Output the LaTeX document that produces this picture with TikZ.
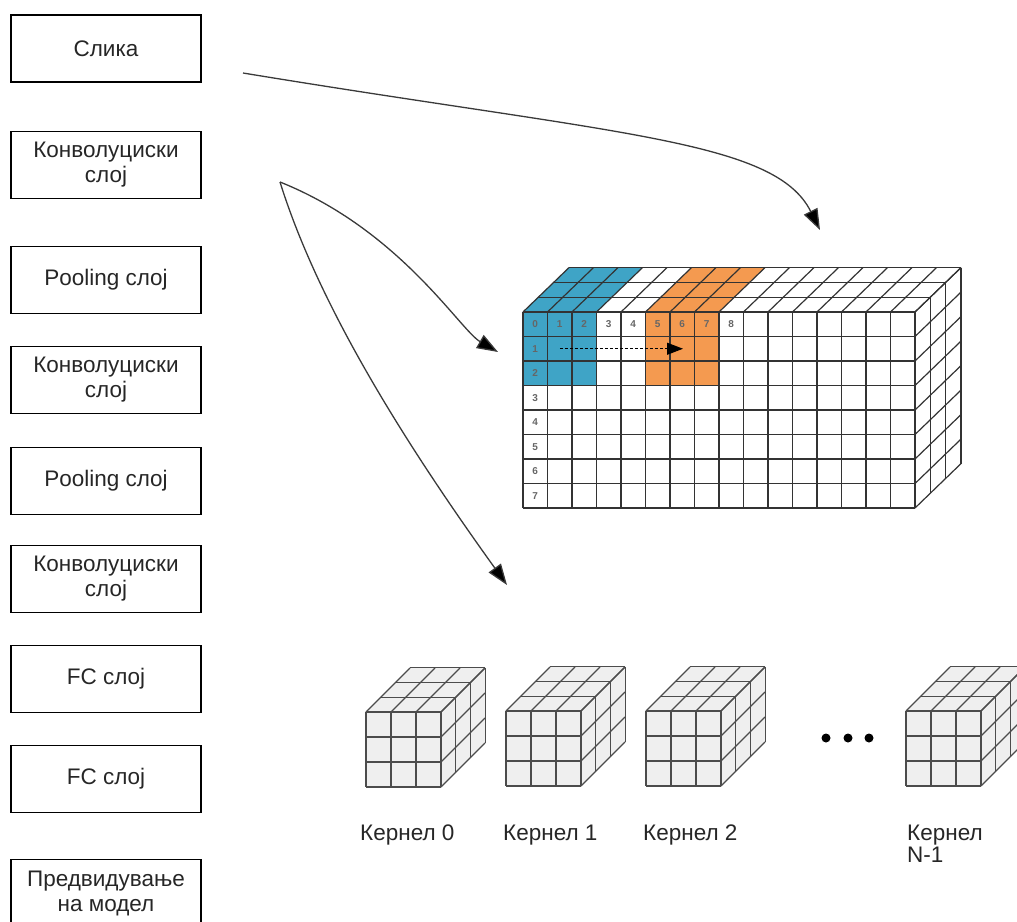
\documentclass[tikz,border=0pt]{standalone}
\usepackage{fontspec}
\setmainfont{Liberation Sans}
\usetikzlibrary{arrows.meta}

\definecolor{cellblue}{HTML}{3FA4C6}
\definecolor{cellorange}{HTML}{F49A50}
\definecolor{gridline}{HTML}{333333}
\definecolor{kernelfill}{HTML}{EFEFEF}
\definecolor{flowline}{HTML}{3A3A3A}

\tikzset{
  layerbox/.style={draw=black, line width=1.5pt, minimum width=190pt, minimum height=67pt,
    align=center, font=\fontsize{22.5}{25}\selectfont, text=black!85, inner sep=2pt},
  flow/.style={draw=flowline, line width=1.3pt, -{Triangle[length=21pt,width=15pt,fill=black]}},
  gridl/.style={draw=gridline, line width=1.2pt},
  cellnum/.style={font=\fontsize{10}{10}\selectfont\bfseries, text=black!60, inner sep=0pt},
  kernline/.style={draw=black!70, line width=1.1pt},
  kernlabel/.style={font=\fontsize{22.5}{22}\selectfont, anchor=base west, align=left,
    inner sep=0pt, text=black!85},
  dotmark/.style={circle, fill=black, minimum size=9pt, inner sep=0pt},
  % a 3x3x3 kernel drawn as a small cube, front top-left corner at the origin
  kernel/.pic={
    \def\k{25}\def\kx{14.7}\def\ky{-14.7}
    \fill[kernelfill] (0,0) -- (3*\k,0) -- (3*\k+3*\kx,3*\ky) -- (3*\kx,3*\ky) -- cycle;
    \fill[kernelfill] (3*\k,0) -- (3*\k+3*\kx,3*\ky) -- (3*\k+3*\kx,3*\k+3*\ky) -- (3*\k,3*\k) -- cycle;
    \fill[kernelfill] (0,0) rectangle (3*\k,3*\k);
    \foreach \i in {0,...,3} {
      \draw[kernline] (\i*\k,0) -- (\i*\k,3*\k);
      \draw[kernline] (0,\i*\k) -- (3*\k,\i*\k);
      \draw[kernline] (\i*\k,0) -- ++(3*\kx,3*\ky);
      \draw[kernline] (\i*\kx,\i*\ky) -- ++(3*\k,0);
      \draw[kernline] (3*\k+\i*\kx,\i*\ky) -- ++(0,3*\k);
      \draw[kernline] (3*\k,\i*\k) -- ++(3*\kx,3*\ky);
    }
  },
}

\begin{document}
\begin{tikzpicture}[x=1pt, y=-1pt]
\clip (0,0) rectangle (1017,921);

% layer stack
\node[layerbox] (b1) at (106,48.5) {Слика};
\node[layerbox] (b2) at (106,165) {Конволуциски\\слој};
\node[layerbox] (b3) at (106,280) {Pooling слој};
\node[layerbox] (b4) at (106,380) {Конволуциски\\слој};
\node[layerbox] (b5) at (106,481) {Pooling слој};
\node[layerbox] (b6) at (106,579) {Конволуциски\\слој};
\node[layerbox] (b7) at (106,679) {FC слој};
\node[layerbox] (b8) at (106,779) {FC слој};
\node[layerbox] (b9) at (106,893) {Предвидување\\на модел};

% input volume with two filter positions
\begin{scope}[shift={(523,312)}]
  \def\w{24.5}\def\dx{15.33}\def\dy{-14.8}
  \fill[cellblue] (0,0) -- (3*\w,0) -- (3*\w+3*\dx,3*\dy) -- (3*\dx,3*\dy) -- cycle;
  \fill[cellblue] (0,0) rectangle (3*\w,3*\w);
  \fill[cellorange] (5*\w,0) -- (8*\w,0) -- (8*\w+3*\dx,3*\dy) -- (5*\w+3*\dx,3*\dy) -- cycle;
  \fill[cellorange] (5*\w,0) rectangle (8*\w,3*\w);
  \foreach \c in {0,...,16} {
    \draw[gridl] (\c*\w,0) -- ++(3*\dx,3*\dy);
    \draw[gridl] (\c*\w,0) -- (\c*\w,8*\w);
  }
  \foreach \d in {1,...,3} {
    \draw[gridl] (\d*\dx,\d*\dy) -- ++(16*\w,0);
    \draw[gridl] (16*\w+\d*\dx,\d*\dy) -- ++(0,8*\w);
  }
  \foreach \r in {0,...,8} {
    \draw[gridl] (0,\r*\w) -- (16*\w,\r*\w);
    \draw[gridl] (16*\w,\r*\w) -- ++(3*\dx,3*\dy);
  }
  \foreach \n in {0,...,8}
    \node[cellnum] (col\n) at ({(\n+0.5)*\w},{0.5*\w}) {\n};
  \foreach \n in {1,...,7}
    \node[cellnum] (row\n) at ({0.5*\w},{(\n+0.5)*\w}) {\n};
  \coordinate (scanA) at (1.5*\w,1.5*\w);
  \coordinate (scanB) at (160,1.5*\w);
  \draw[densely dashed, line width=1pt, -{Triangle[length=16pt,width=12pt]}] (scanA) -- (scanB);
\end{scope}

% kernels
\pic (k0) at (366,712) {kernel};
\pic (k1) at (506,711) {kernel};
\pic (k2) at (646,711) {kernel};
\pic (k3) at (906,711) {kernel};
\node[dotmark] (e1) at (826,738) {};
\node[dotmark] (e2) at (848,738) {};
\node[dotmark] (e3) at (869,738) {};
\node[kernlabel] (l0) at (360,840) {Кернел 0};
\node[kernlabel] (l1) at (503,840) {Кернел 1};
\node[kernlabel] (l2) at (643,840) {Кернел 2};
\node[kernlabel] (l3) at (907,862) {Кернел\\N-1};

% connectors
\coordinate (imgsrc) at (243,73);
\coordinate (convsrc) at (280,182);
\coordinate (gridtop) at (820,230);
\coordinate (gridside) at (498,352);
\coordinate (kerntop) at (507,585);
\draw[flow] (imgsrc) .. controls (620,135) and (775,140) .. (gridtop);
\draw[flow] (convsrc) .. controls (400,230) and (460,330) .. (gridside);
\draw[flow] (convsrc) .. controls (320,310) and (410,450) .. (kerntop);
\end{tikzpicture}
\end{document}
